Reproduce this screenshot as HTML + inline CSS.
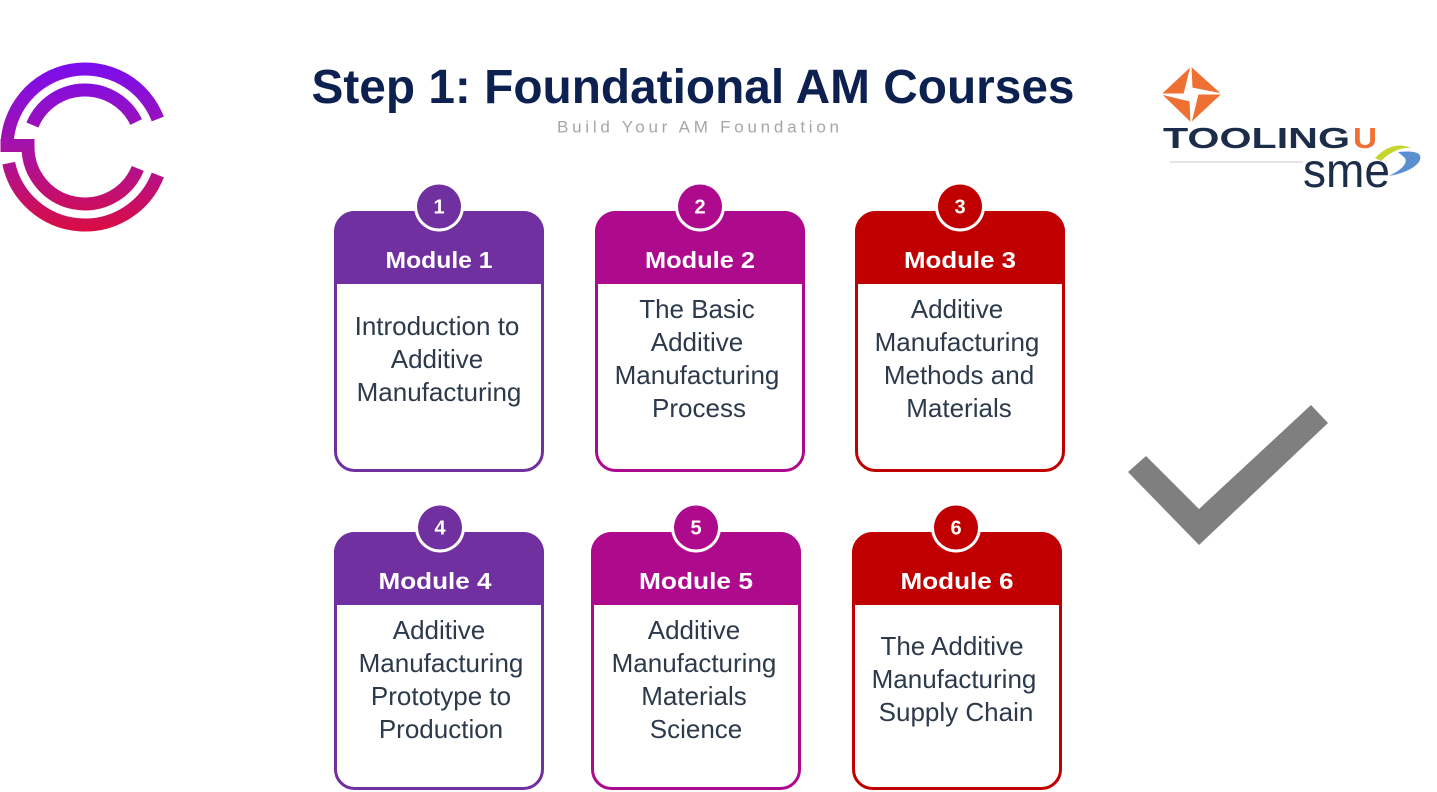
<!DOCTYPE html>
<html><head><meta charset="utf-8"><style>
html,body{margin:0;padding:0;background:#fff;}
svg{display:block;}
</style></head><body>
<svg width="1437" height="792" viewBox="0 0 1437 792" xmlns="http://www.w3.org/2000/svg" font-family="'Liberation Sans', sans-serif">
<defs>
<linearGradient id="lg" gradientUnits="userSpaceOnUse" x1="0" y1="62" x2="0" y2="232">
<stop offset="0" stop-color="#7a0df0"/>
<stop offset="0.5" stop-color="#a512a8"/>
<stop offset="1" stop-color="#da0d42"/>
</linearGradient>
</defs>
<rect width="1437" height="792" fill="#fff"/>

<!-- left logo -->
<g fill="none" stroke="url(#lg)" stroke-width="13">
<path d="M157.8,119 A78,78 0 0 0 7,147"/>
<path d="M28,147 A57,57 0 0 0 137.8,168.4"/>
<path d="M136.2,122 A57,57 0 0 0 32.4,125"/>
<path d="M8.7,163.2 A78,78 0 0 0 157.8,175"/>
</g>
<rect x="0.5" y="139" width="34" height="13" fill="url(#lg)"/>

<!-- title -->
<text x="693" y="103" text-anchor="middle" font-size="48" font-weight="bold" fill="#0d2150" textLength="763" lengthAdjust="spacingAndGlyphs">Step 1: Foundational AM Courses</text>
<text x="698" y="132.5" text-anchor="middle" font-size="17" fill="#a6a6a6" textLength="282" lengthAdjust="spacing">Build Your AM Foundation</text>

<!-- Tooling U logo -->
<g fill="#ee7032" stroke="#fff" stroke-width="1" stroke-linejoin="miter">
<polygon points="1191,66 1222,94 1192,88"/>
<polygon points="1222,94 1191,123 1198,94"/>
<polygon points="1191,123 1161,94 1190,101"/>
<polygon points="1161,94 1191,66 1184,94"/>
</g>
<text x="1163" y="148" font-size="29" font-weight="bold" fill="#1c2d4a" textLength="187" lengthAdjust="spacingAndGlyphs">TOOLING</text>
<text x="1353" y="148" font-size="29" font-weight="bold" fill="#ee7032" textLength="24" lengthAdjust="spacingAndGlyphs">U</text>
<line x1="1170" y1="162" x2="1303" y2="162" stroke="#c8c8c8" stroke-width="1"/>
<text x="1303" y="187" font-size="48" fill="#1c2d4a" textLength="87" lengthAdjust="spacingAndGlyphs">sme</text>
<path d="M1375,158 Q1392,140 1411,148 Q1395,147 1381,161 Z" fill="#c5d42f"/>
<path d="M1398,152 Q1426,149 1419,162 Q1411,172 1389,176 Q1409,166 1405,158 Z" fill="#5a8fd0"/>

<!-- checkmark -->
<polygon points="1128,472 1146,456 1199,509 1311,405 1328,423 1199,545" fill="#7f7f7f"/>

<!-- Card 1 -->
<g transform="translate(334,211)">
<rect x="1.5" y="1.5" width="207" height="258" rx="19" fill="#fff" stroke="#7030a0" stroke-width="3"/>
<path d="M0,73 V21 A21,21 0 0 1 21,0 H189 A21,21 0 0 1 210,21 V73 Z" fill="#7030a0"/>
<text x="105" y="57" text-anchor="middle" font-size="23" font-weight="bold" fill="#fff" textLength="107" lengthAdjust="spacingAndGlyphs">Module 1</text>
<circle cx="105" cy="-4.5" r="25" fill="#fff"/>
<circle cx="105" cy="-4.5" r="22" fill="#7030a0"/>
<text x="105" y="2.5" text-anchor="middle" font-size="20" font-weight="bold" fill="#fff">1</text>
<g font-size="26" fill="#2d3a4b" text-anchor="middle">
<text x="103" y="124">Introduction to</text>
<text x="103" y="157">Additive</text>
<text x="105" y="190">Manufacturing</text>
</g>
</g>

<!-- Card 2 -->
<g transform="translate(595,211)">
<rect x="1.5" y="1.5" width="207" height="258" rx="19" fill="#fff" stroke="#ad0a8e" stroke-width="3"/>
<path d="M0,73 V21 A21,21 0 0 1 21,0 H189 A21,21 0 0 1 210,21 V73 Z" fill="#ad0a8e"/>
<text x="105" y="57" text-anchor="middle" font-size="23" font-weight="bold" fill="#fff" textLength="110" lengthAdjust="spacingAndGlyphs">Module 2</text>
<circle cx="105" cy="-4.5" r="25" fill="#fff"/>
<circle cx="105" cy="-4.5" r="22" fill="#ad0a8e"/>
<text x="105" y="2.5" text-anchor="middle" font-size="20" font-weight="bold" fill="#fff">2</text>
<g font-size="26" fill="#2d3a4b" text-anchor="middle">
<text x="102" y="107">The Basic</text>
<text x="102" y="140">Additive</text>
<text x="102" y="173">Manufacturing</text>
<text x="104" y="206">Process</text>
</g>
</g>

<!-- Card 3 -->
<g transform="translate(855,211)">
<rect x="1.5" y="1.5" width="207" height="258" rx="19" fill="#fff" stroke="#c00000" stroke-width="3"/>
<path d="M0,73 V21 A21,21 0 0 1 21,0 H189 A21,21 0 0 1 210,21 V73 Z" fill="#c00000"/>
<text x="105" y="57" text-anchor="middle" font-size="23" font-weight="bold" fill="#fff" textLength="112" lengthAdjust="spacingAndGlyphs">Module 3</text>
<circle cx="105" cy="-4.5" r="25" fill="#fff"/>
<circle cx="105" cy="-4.5" r="22" fill="#c00000"/>
<text x="105" y="2.5" text-anchor="middle" font-size="20" font-weight="bold" fill="#fff">3</text>
<g font-size="26" fill="#2d3a4b" text-anchor="middle">
<text x="102" y="107">Additive</text>
<text x="102" y="140">Manufacturing</text>
<text x="104" y="173">Methods and</text>
<text x="104" y="206">Materials</text>
</g>
</g>

<!-- Card 4 -->
<g transform="translate(334,532)">
<rect x="1.5" y="1.5" width="207" height="255" rx="19" fill="#fff" stroke="#7030a0" stroke-width="3"/>
<path d="M0,73 V21 A21,21 0 0 1 21,0 H189 A21,21 0 0 1 210,21 V73 Z" fill="#7030a0"/>
<text x="101" y="57" text-anchor="middle" font-size="23" font-weight="bold" fill="#fff" textLength="113" lengthAdjust="spacingAndGlyphs">Module 4</text>
<circle cx="106" cy="-4.5" r="25" fill="#fff"/>
<circle cx="106" cy="-4.5" r="22" fill="#7030a0"/>
<text x="106" y="2.5" text-anchor="middle" font-size="20" font-weight="bold" fill="#fff">4</text>
<g font-size="26" fill="#2d3a4b" text-anchor="middle">
<text x="105" y="107">Additive</text>
<text x="107" y="140">Manufacturing</text>
<text x="107" y="173">Prototype to</text>
<text x="107" y="206">Production</text>
</g>
</g>

<!-- Card 5 -->
<g transform="translate(591,532)">
<rect x="1.5" y="1.5" width="207" height="255" rx="19" fill="#fff" stroke="#ad0a8e" stroke-width="3"/>
<path d="M0,73 V21 A21,21 0 0 1 21,0 H189 A21,21 0 0 1 210,21 V73 Z" fill="#ad0a8e"/>
<text x="105" y="57" text-anchor="middle" font-size="23" font-weight="bold" fill="#fff" textLength="114" lengthAdjust="spacingAndGlyphs">Module 5</text>
<circle cx="105" cy="-4.5" r="25" fill="#fff"/>
<circle cx="105" cy="-4.5" r="22" fill="#ad0a8e"/>
<text x="105" y="2.5" text-anchor="middle" font-size="20" font-weight="bold" fill="#fff">5</text>
<g font-size="26" fill="#2d3a4b" text-anchor="middle">
<text x="103" y="107">Additive</text>
<text x="103" y="140">Manufacturing</text>
<text x="103" y="173">Materials</text>
<text x="105" y="206">Science</text>
</g>
</g>

<!-- Card 6 -->
<g transform="translate(852,532)">
<rect x="1.5" y="1.5" width="207" height="255" rx="19" fill="#fff" stroke="#c00000" stroke-width="3"/>
<path d="M0,73 V21 A21,21 0 0 1 21,0 H189 A21,21 0 0 1 210,21 V73 Z" fill="#c00000"/>
<text x="105" y="57" text-anchor="middle" font-size="23" font-weight="bold" fill="#fff" textLength="113" lengthAdjust="spacingAndGlyphs">Module 6</text>
<circle cx="104" cy="-4.5" r="25" fill="#fff"/>
<circle cx="104" cy="-4.5" r="22" fill="#c00000"/>
<text x="104" y="2.5" text-anchor="middle" font-size="20" font-weight="bold" fill="#fff">6</text>
<g font-size="26" fill="#2d3a4b" text-anchor="middle">
<text x="100" y="123">The Additive</text>
<text x="102" y="156">Manufacturing</text>
<text x="104" y="189">Supply Chain</text>
</g>
</g>
</svg>
</body></html>
